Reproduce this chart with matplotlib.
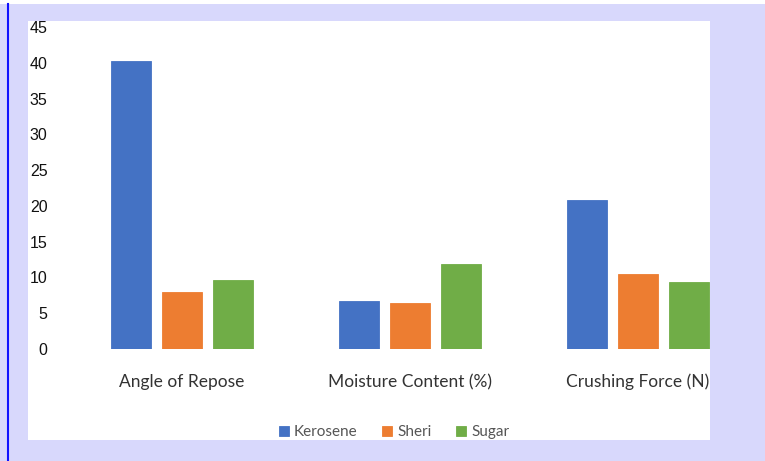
import numpy as np
import matplotlib.pyplot as plt
from matplotlib.patches import Rectangle
from matplotlib.lines import Line2D

# data ------------------------------------------------------------
categories = ['Angle of Repose', 'Moisture Content (%)', 'Crushing Force (N)']
kerosene = [40.2, 6.7, 20.8]
sheri = [8.0, 6.4, 10.5]
sugar = [9.7, 11.9, 9.4]
series_names = ['Kerosene', 'Sheri', 'Sugar']
yticks = [0, 5, 10, 15, 20, 25, 30, 35, 40, 45]

colors = ['#4472c4', '#ed7d31', '#70ad47']

W, H = 765, 461
fig = plt.figure(figsize=(W / 100, H / 100), dpi=100)
fig.patch.set_facecolor('#d8d8fc')

# white chart panel and left blue rule
fig.patches.append(Rectangle((28 / W, 1 - 440 / H), (710 - 28) / W, (440 - 21) / H,
                             transform=fig.transFigure, facecolor='white',
                             edgecolor='none', zorder=-2))
fig.patches.append(Rectangle((0, 1 - 4 / H), 1, 4 / H, transform=fig.transFigure,
                             facecolor='white', edgecolor='none', zorder=-2))
fig.lines.append(Line2D([7.5 / W, 7.5 / W], [0, 1 - 4 / H], transform=fig.transFigure,
                        color='#1010ff', lw=1.5))

ax_left, ax_right = 60, 710
ax_top, ax_bot = 27, 349
ax = fig.add_axes([ax_left / W, 1 - ax_bot / H, (ax_right - ax_left) / W, (ax_bot - ax_top) / H])
ax.set_facecolor('none')

x = np.arange(len(categories))
pitch = 228.0
w = 40 / pitch
off = 51 / pitch
for i, (vals, c) in enumerate(zip([kerosene, sheri, sugar], colors)):
    ax.bar(x + (i - 1) * off, vals, width=w, color=c, label=series_names[i],
           edgecolor=c, linewidth=0.6)

ax.set_xlim(-(182 - ax_left) / pitch, (ax_right - 182) / pitch)
ax.set_ylim(0, 45)
ax.set_yticks(yticks)
ax.set_yticklabels([str(t) for t in yticks], fontsize=11.5, color='#111111',
                   family='Liberation Sans')
ax.tick_params(axis='y', length=0, pad=9)
ax.set_xticks([])
for s in ax.spines.values():
    s.set_visible(False)

for xi, lab in zip(x, categories):
    ax.text(xi, -4.6, lab, ha='center', va='center', fontsize=12.5,
            color='#333333', family='Lato', clip_on=False)

leg = fig.legend(loc='center', bbox_to_anchor=(394 / W, 1 - 432 / H), ncol=3,
                 frameon=False, handlelength=0.65, handleheight=0.65,
                 handletextpad=0.35, columnspacing=1.6,
                 prop={'family': 'Lato', 'size': 11})
for t in leg.get_texts():
    t.set_color('#555555')

fig.savefig('out.png', dpi=100, facecolor=fig.get_facecolor())
